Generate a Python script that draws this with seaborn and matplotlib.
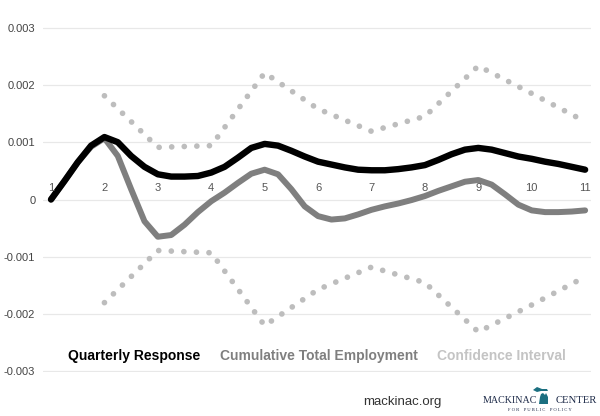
import matplotlib
matplotlib.use("Agg")
import matplotlib.pyplot as plt
import seaborn as sns
import pandas as pd
from matplotlib.patches import Polygon

# values every quarter step (1, 1.25, ... 11)
quarters = [1 + i / 4 for i in range(41)]
quarterly = [0, 0.00032, 0.00065, 0.00094, 0.00109, 0.001, 0.00076, 0.00057,
             0.00044, 0.0004, 0.0004, 0.00041, 0.00047, 0.00057, 0.00073,
             0.0009, 0.00097, 0.00094, 0.00085, 0.00075, 0.00066, 0.00061,
             0.00056, 0.00052, 0.00051, 0.00051, 0.00053, 0.00056, 0.0006,
             0.00069, 0.00079, 0.00087, 0.0009, 0.00087, 0.00081, 0.00075,
             0.00071, 0.00066, 0.00062, 0.00057, 0.00052]
cumulative = [0, 0.00032, 0.00065, 0.00092, 0.00107, 0.00076, 0.00018,
              -0.00038, -0.00065, -0.00062, -0.00044, -0.00022, -0.00003,
              0.00012, 0.00029, 0.00045, 0.00052, 0.00044, 0.00018, -0.00012,
              -0.00029, -0.00035, -0.00033, -0.00026, -0.00018, -0.00012,
              -0.00007, -0.00001, 0.00006, 0.00015, 0.00023, 0.00031, 0.00034,
              0.00026, 0.00009, -0.00009, -0.00019, -0.00022, -0.00022,
              -0.00021, -0.00019]

ci_quarters = [2, 3, 4, 5, 6, 7, 8, 9, 10, 11]
ci_upper = [0.00181, 0.00091, 0.00094, 0.00221, 0.00158, 0.00119,
            0.00145, 0.00233, 0.00185, 0.00136]
ci_lower = [-0.0018, -0.00089, -0.00093, -0.0022, -0.00157, -0.00118,
            -0.00145, -0.00231, -0.00184, -0.00135]

categories = [1, 2, 3, 4, 5, 6, 7, 8, 9, 10, 11]
y_ticks = [0.003, 0.002, 0.001, 0, -0.001, -0.002, -0.003]
y_labels = ["0.003", "0.002", "0.001", "0", "-0.001", "-0.002", "-0.003"]

sns.set_style("white")
plt.rcParams["font.family"] = ["Liberation Sans", "DejaVu Sans"]

fig = plt.figure(figsize=(6, 4.16), dpi=100)
ax = fig.add_axes([43 / 600, 44 / 416, 548 / 600, 345 / 416])

lines = pd.DataFrame({"q": quarters, "quarterly": quarterly,
                      "cumulative": cumulative})
ci = pd.DataFrame({"q": ci_quarters, "upper": ci_upper, "lower": ci_lower})

dot = (0, (0.01, 2.2))
sns.lineplot(data=ci, x="q", y="upper", ax=ax, color="#bdbdbd", lw=4.1,
             linestyle=dot, dash_capstyle="round", label="Confidence Interval")
sns.lineplot(data=ci, x="q", y="lower", ax=ax, color="#bdbdbd", lw=4.1,
             linestyle=dot, dash_capstyle="round", label="_ci_low")
sns.lineplot(data=lines, x="q", y="cumulative", ax=ax, color="#7f7f7f",
             lw=4.3, solid_capstyle="round", solid_joinstyle="round",
             label="Cumulative Total Employment")
sns.lineplot(data=lines, x="q", y="quarterly", ax=ax, color="black",
             lw=4.6, solid_capstyle="round", solid_joinstyle="round",
             label="Quarterly Response")

ax.set_xlim(0.85, 11.11)
ax.set_ylim(-0.00301, 0.00301)
ax.set_yticks(y_ticks, y_labels)
ax.set_xticks([])
ax.set_xlabel("")
ax.set_ylabel("")
ax.tick_params(axis="y", length=0, pad=5.5, labelsize=8, labelcolor="#444444")
ax.grid(axis="y", color="#e8e8e8", lw=0.9)
ax.set_axisbelow(True)
for s in ax.spines.values():
    s.set_visible(False)

for c in categories:
    ax.annotate(str(c), (c, 0), xytext=(0, 5), textcoords="offset points",
                ha="center", va="bottom", fontsize=8, color="#555555")

# legend: coloured bold text only
handles, labels = ax.get_legend_handles_labels()
order = ["Quarterly Response", "Cumulative Total Employment", "Confidence Interval"]
hmap = dict(zip(labels, handles))
leg = ax.legend([hmap[k] for k in order], order, ncol=3, frameon=False,
                loc="center", bbox_to_anchor=(0.5, 16 / 345),
                handlelength=0, handletextpad=0, columnspacing=1.4,
                prop={"weight": "bold", "size": 10})
for h in leg.legend_handles:
    h.set_visible(False)
for t, col in zip(leg.get_texts(), ["black", "#7f7f7f", "#c4c4c4"]):
    t.set_color(col)

fig.text(402 / 600, 1 - 402 / 416, "mackinac.org", ha="center", va="center",
         fontsize=9.5, color="#333333")

# logo
navy = "#1d2a48"
fig.text(483 / 600, 1 - 403 / 416, "MACKINAC", ha="left", va="baseline",
         fontsize=7.2, color=navy, family="Liberation Serif")
fig.text(597 / 600, 1 - 403 / 416, "CENTER", ha="right", va="baseline",
         fontsize=7.7, color=navy, family="Liberation Serif")
fig.text(540 / 600, 1 - 410 / 416, "F O R    P U B L I C    P O L I C Y",
         ha="center", va="center", fontsize=3.3, color=navy,
         family="Liberation Serif")
mitten = [(539, 404), (548, 404), (548, 397), (546, 393), (545, 395),
          (543, 393), (541, 394), (540, 397)]
upper_pen = [(533, 390), (537, 387), (542, 389), (547, 389), (548, 391),
             (541, 391), (537, 392)]
for shape in (mitten, upper_pen):
    pts = [(x / 600, 1 - y / 416) for x, y in shape]
    fig.patches.append(Polygon(pts, closed=True, transform=fig.transFigure,
                               color="#1b6f80", lw=0))

fig.savefig("out.png", dpi=100)
